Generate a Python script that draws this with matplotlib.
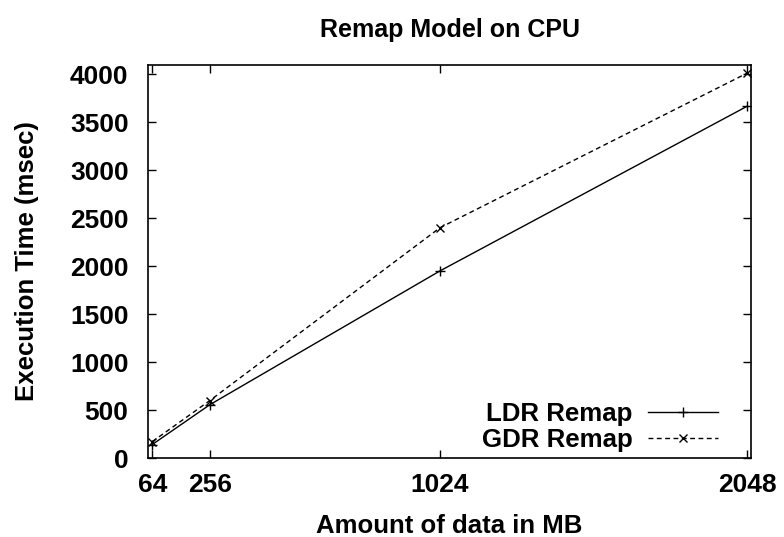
"""Remap Model on CPU: execution time vs data size (gnuplot-style line chart)."""

import matplotlib

matplotlib.use("Agg")
import matplotlib.pyplot as plt

sizes_mb = [64, 256, 1024, 2048]
ldr_remap = [140, 555, 1950, 3665]
gdr_remap = [170, 598, 2400, 4010]
y_ticks = [0, 500, 1000, 1500, 2000, 2500, 3000, 3500, 4000]

plt.rcParams["font.family"] = ["Liberation Sans", "DejaVu Sans"]
plt.rcParams["font.weight"] = "bold"

fig = plt.figure(figsize=(7.84, 5.37), dpi=100)
ax = fig.add_axes([148 / 784, 1 - 458 / 537, (751 - 148) / 784, (458 - 65) / 537])

ax.plot(sizes_mb, ldr_remap, color="black", lw=1.0, ls="-",
        marker="+", ms=7, mew=1.0, label="LDR Remap")
ax.plot(sizes_mb, gdr_remap, color="black", lw=1.0, ls=(0, (3.5, 2.5)),
        marker="x", ms=6, mew=1.0, label="GDR Remap")

ax.set_xlim(50, 2061)
ax.set_ylim(0, 4095)
ax.set_xticks(sizes_mb)
ax.set_yticks(y_ticks)
ax.tick_params(direction="in", length=6, width=1.0, top=True, right=True,
               labelsize=19)
ax.tick_params(axis="x", pad=11)
ax.tick_params(axis="y", pad=14)
for lbl in ax.get_xticklabels() + ax.get_yticklabels():
    lbl.set_fontweight("bold")
for spine in ax.spines.values():
    spine.set_linewidth(1.2)

ax.set_title("Remap Model on CPU", fontsize=18, fontweight="bold", pad=20)
ax.set_xlabel("Amount of data in MB", fontsize=18.5, fontweight="bold", labelpad=12)
ax.set_ylabel("Execution Time (msec)", fontsize=18.5, fontweight="bold", labelpad=22)

leg = ax.legend(loc="lower right", markerfirst=False, frameon=False,
                prop={"size": 18.6, "weight": "bold"}, handlelength=2.7,
                handletextpad=0.6, labelspacing=0.1, borderpad=0,
                borderaxespad=0, bbox_to_anchor=(0.945, 0.014))

fig.savefig("out.png", dpi=100)
